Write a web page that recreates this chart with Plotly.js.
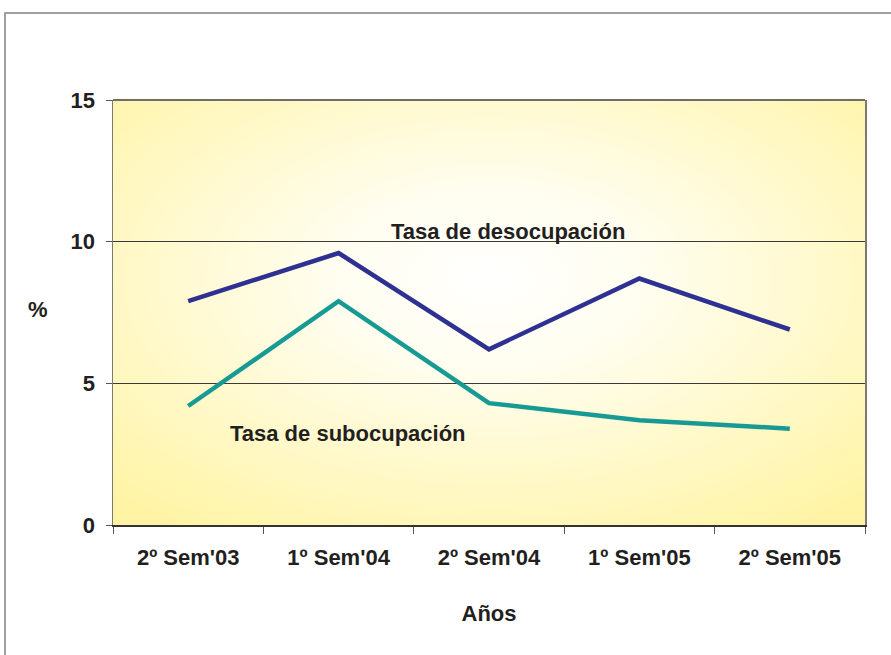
<!DOCTYPE html>
<html>
<head>
<meta charset="utf-8">
<script src="https://cdn.plot.ly/plotly-3.0.1.min.js"></script>
<style>
html,body{margin:0;padding:0;background:#fff;}
#chart{width:891px;height:655px;}
</style>
</head>
<body>
<div id="chart"></div>
<script>
const categories = ["2º Sem'03", "1º Sem'04", "2º Sem'04", "1º Sem'05", "2º Sem'05"];
const desocupacion = [7.9, 9.6, 6.2, 8.7, 6.9];
const subocupacion = [4.2, 7.9, 4.3, 3.7, 3.4];
const yTickVals = [0, 5, 10, 15];
const yTickText = ["0", "5", "10", "15"];

const FONT = "Arial, 'Liberation Sans', Helvetica, sans-serif";
const FS = 22;

const svg = "<svg xmlns='http://www.w3.org/2000/svg' width='752' height='425' viewBox='0 0 752 425' preserveAspectRatio='none'>" +
  "<defs><radialGradient id='g' cx='0.5' cy='0.42' r='0.72' gradientUnits='objectBoundingBox'>" +
  "<stop offset='0' stop-color='#ffffff'/><stop offset='0.3' stop-color='#fffdee'/>" +
  "<stop offset='1' stop-color='#fff4a4'/></radialGradient></defs>" +
  "<rect width='752' height='425' fill='url(#g)'/></svg>";
const bgSrc = "data:image/svg+xml;charset=utf-8," + encodeURIComponent(svg);

const traces = [
  {x: categories, y: desocupacion, type: 'scatter', mode: 'lines', name: 'Tasa de desocupación',
   line: {color: '#2e3192', width: 4.5}, hoverinfo: 'skip'},
  {x: categories, y: subocupacion, type: 'scatter', mode: 'lines', name: 'Tasa de subocupación',
   line: {color: '#169a93', width: 4.5}, hoverinfo: 'skip'}
];

const layout = {
  width: 891, height: 655,
  margin: {l: 113, r: 26, t: 100, b: 130},
  paper_bgcolor: '#ffffff',
  plot_bgcolor: 'rgba(0,0,0,0)',
  showlegend: false,
  font: {family: FONT, color: '#231f20', size: FS},
  xaxis: {
    type: 'category', range: [-0.5, 4.5], fixedrange: true,
    tickson: 'boundaries', ticks: 'outside', ticklen: 7, tickcolor: '#555', tickwidth: 1,
    ticklabelstandoff: 12,
    showline: true, linecolor: '#333', linewidth: 1.5, mirror: false,
    showgrid: false, zeroline: false,
    tickfont: {family: FONT, size: FS, color: '#231f20', weight: 'bold'},
    title: {text: 'Años', font: {family: FONT, size: FS, color: '#231f20', weight: 'bold'}, standoff: 36}
  },
  yaxis: {
    range: [0, 15], fixedrange: true,
    tickvals: yTickVals, ticktext: yTickText,
    ticks: 'outside', ticklen: 6, tickcolor: '#555', tickwidth: 1,
    ticklabelstandoff: 6,
    showline: true, linecolor: '#7a7a72', linewidth: 1.5, mirror: true,
    showgrid: true, gridcolor: '#3a3a3a', gridwidth: 1, zeroline: false,
    tickfont: {family: FONT, size: FS, color: '#231f20', weight: 'bold'}
  },
  images: [{source: bgSrc, xref: 'paper', yref: 'paper', x: 0, y: 1, sizex: 1, sizey: 1,
    xanchor: 'left', yanchor: 'top', sizing: 'stretch', layer: 'below'}],
  shapes: [
    {type: 'rect', xref: 'paper', yref: 'paper', x0: -0.1436, x1: 1.1, y0: -0.4, y1: 1.2047,
     line: {color: '#808080', width: 1.5}, fillcolor: 'rgba(0,0,0,0)', layer: 'below'},
    {type: 'line', xref: 'paper', yref: 'paper', x0: 0, x1: 1, y0: 1, y1: 1,
     line: {color: '#6e6e66', width: 2}}
  ],
  annotations: [
    {text: 'Tasa de desocupación', xref: 'paper', yref: 'paper', x: (508 - 113) / 752, y: (525 - 232) / 425,
     showarrow: false, xanchor: 'center', yanchor: 'middle',
     font: {family: FONT, size: FS, color: '#231f20', weight: 'bold'}},
    {text: 'Tasa de subocupación', xref: 'paper', yref: 'paper', x: (348 - 113) / 752, y: (525 - 433) / 425,
     showarrow: false, xanchor: 'center', yanchor: 'middle',
     font: {family: FONT, size: FS, color: '#231f20', weight: 'bold'}},
    {text: '%', xref: 'paper', yref: 'paper', x: (38 - 113) / 752, y: (525 - 309) / 425,
     showarrow: false, xanchor: 'center', yanchor: 'middle',
     font: {family: FONT, size: FS, color: '#231f20', weight: 'bold'}}
  ]
};

Plotly.newPlot('chart', traces, layout, {staticPlot: true, displayModeBar: false});
</script>
</body>
</html>
